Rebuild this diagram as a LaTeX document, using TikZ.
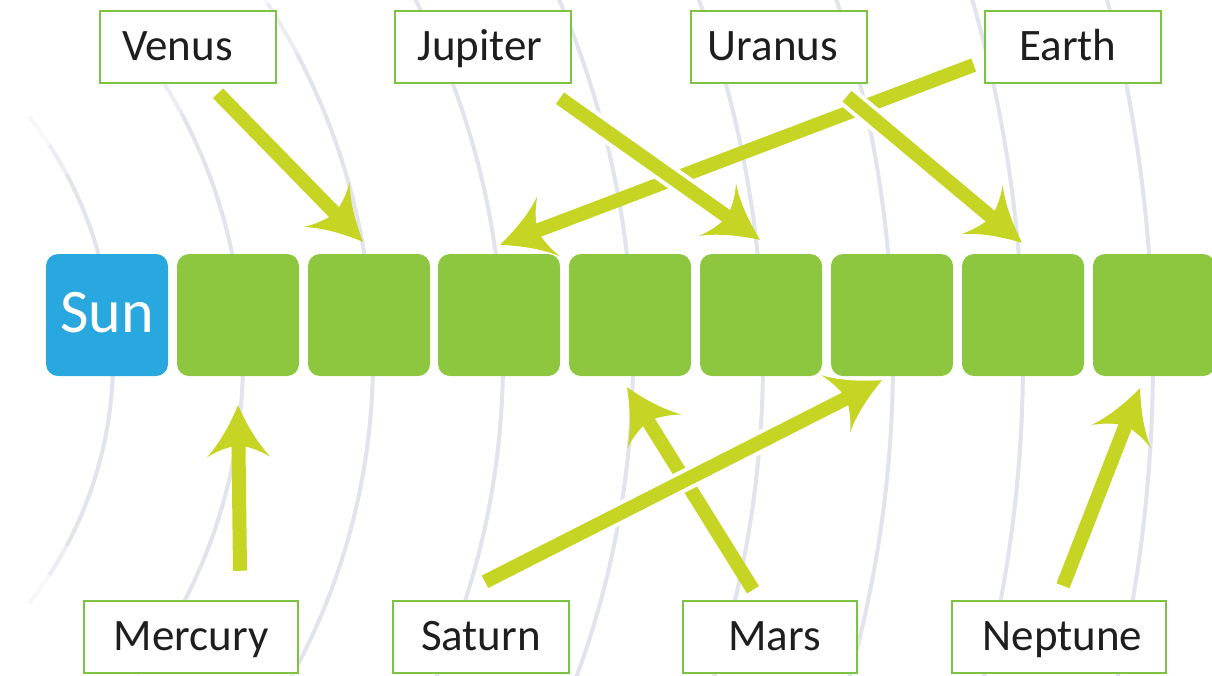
\documentclass[tikz,border=0pt]{standalone}
\usepackage{fontspec}
\setmainfont{Carlito}
\usetikzlibrary{arrows.meta,calc}

\definecolor{sunblue}{RGB}{41,168,224}
\definecolor{boxgreen}{RGB}{141,198,63}
\definecolor{labelgreen}{RGB}{125,194,66}
\definecolor{arrowc}{RGB}{198,212,35}
\definecolor{arcc}{RGB}{226,228,236}
\definecolor{textc}{RGB}{30,30,30}

\pgfdeclarearrow{
  name = Swoosh,
  setup code = {
    \pgfarrowssettipend{0pt}
    \pgfarrowssetlineend{-34pt}
    \pgfarrowssetbackend{-52pt}
    \pgfarrowssetvisualbackend{-40pt}
    \pgfarrowshullpoint{0pt}{0pt}
    \pgfarrowshullpoint{-52pt}{32pt}
    \pgfarrowshullpoint{-52pt}{-32pt}
  },
  drawing code = {
    \pgfpathmoveto{\pgfpointorigin}
    \pgfpathcurveto{\pgfpoint{-16pt}{7pt}}{\pgfpoint{-36pt}{17pt}}{\pgfpoint{-52pt}{32pt}}
    \pgfpathcurveto{\pgfpoint{-46pt}{22pt}}{\pgfpoint{-42pt}{12pt}}{\pgfpoint{-40pt}{0pt}}
    \pgfpathcurveto{\pgfpoint{-42pt}{-12pt}}{\pgfpoint{-46pt}{-22pt}}{\pgfpoint{-52pt}{-32pt}}
    \pgfpathcurveto{\pgfpoint{-36pt}{-17pt}}{\pgfpoint{-16pt}{-7pt}}{\pgfpointorigin}
    \pgfpathclose
    \pgfusepathqfill
  }
}

\begin{document}
\begin{tikzpicture}[x=1pt,y=-1pt,
  arcline/.style={line width=4pt, line cap=butt},
  planet/.style={minimum width=122pt, minimum height=122pt, inner sep=0pt,
    rounded corners=12pt, fill=boxgreen},
  sunbox/.style={planet, fill=sunblue, text=white,
    font=\fontsize{62}{70}\selectfont, text height=40pt, text depth=6pt},
  tag/.style={draw=labelgreen, line width=2.5pt, fill=white, text=textc,
    minimum height=72pt, inner xsep=0pt, inner ysep=0pt,
    font=\fontsize{45}{54}\selectfont, text height=29pt, text depth=3pt},
  arr/.style={draw=arrowc, line width=14pt, line cap=butt, -{Swoosh}},
  halo/.style={preaction={draw=white, line width=22pt, -, shorten >=40pt}}
]
\useasboundingbox (0,0) rectangle (1212,675);

% background orbits
\begin{scope}
\clip (0,0) rectangle (1212,675);
\foreach \r in {395,525,655,785,915,1045,1175,1305,1435} {
  \draw[arcline, arcc] (-282,360) ++(-28:\r) arc[start angle=-28, end angle=28, radius=\r];
  \draw[arcline, arcc!65!white] (-282,360) ++(-33:\r) arc[start angle=-33, end angle=-28, radius=\r];
  \draw[arcline, arcc!65!white] (-282,360) ++(28:\r) arc[start angle=28, end angle=33, radius=\r];
  \draw[arcline, arcc!30!white] (-282,360) ++(-38:\r) arc[start angle=-38, end angle=-33, radius=\r];
  \draw[arcline, arcc!30!white] (-282,360) ++(33:\r) arc[start angle=33, end angle=38, radius=\r];
}
\end{scope}

% label boxes
\node[tag, minimum width=176pt] (venus)   at (188,47)  {\hspace*{-21pt}Venus};
\node[tag, minimum width=176pt] (jupiter) at (483,47)  {\hspace*{-6pt}Jupiter};
\node[tag, minimum width=176pt] (uranus)  at (779,47)  {\hspace*{-12pt}Uranus};
\node[tag, minimum width=176pt] (earth)   at (1073,47) {\hspace*{-10pt}Earth};
\node[tag, minimum width=214pt] (mercury) at (191,637) {Mercury};
\node[tag, minimum width=176pt] (saturn)  at (481,637) {Saturn};
\node[tag, minimum width=174pt] (mars)    at (770,637) {Mars\hspace*{-9pt}};
\node[tag, minimum width=214pt] (neptune) at (1059,637) {Neptune\hspace*{-7pt}};

% sun and planet boxes
\node[sunbox] (sun) at (107,315) {Sun};
\node[planet] (p1) at (238,315) {};
\node[planet] (p2) at (369,315) {};
\node[planet] (p3) at (499,315) {};
\node[planet] (p4) at (630,315) {};
\node[planet] (p5) at (761,315) {};
\node[planet] (p6) at (892,315) {};
\node[planet] (p7) at (1023,315) {};
\node[planet] (p8) at (1154,315) {};

% arrows
\draw[arr] ($(earth.west)+(-10,18)$) -- ($(p3.north)+(1,-9)$);
\draw[arr] ($(venus.south)+(30,9)$) -- ($(p2.north)+(-6,-12)$);
\draw[arr, halo] ($(jupiter.south)+(77,14)$) -- ($(p5.north)+(-1,-14)$);
\draw[arr, halo] ($(uranus.south)+(68,12)$) -- ($(p7.north)+(-1,-11)$);
\draw[arr] ($(mercury.north)+(49,-29)$) -- ($(p1.south)+(0,29)$);
\draw[arr] ($(mars.north)+(-17,-10)$) -- ($(p4.south)+(-3,11)$);
\draw[arr, halo] ($(saturn.north)+(4,-18)$) -- ($(p6.south)+(-10,4)$);
\draw[arr] ($(neptune.north)+(4,-14)$) -- ($(p8.south)+(-14,12)$);
\end{tikzpicture}
\end{document}
